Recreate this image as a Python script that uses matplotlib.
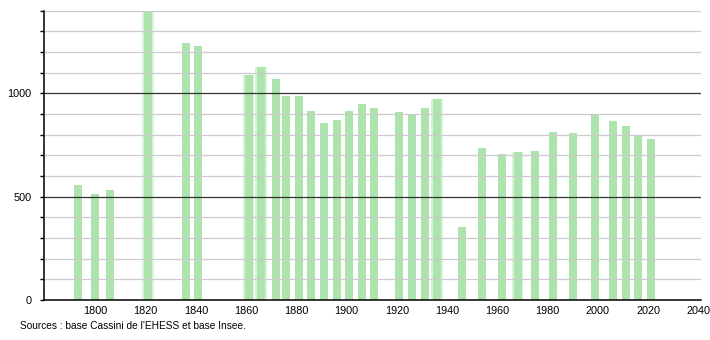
import numpy as np
import matplotlib
matplotlib.use("Agg")
import matplotlib.pyplot as plt

# census years and population
years = [1793, 1800, 1806, 1821, 1836, 1841, 1861, 1866, 1872, 1876, 1881,
         1886, 1891, 1896, 1901, 1906, 1911, 1921, 1926, 1931, 1936, 1946,
         1954, 1962, 1968, 1975, 1982, 1990, 1999, 2006, 2011, 2016, 2021]
population = [557, 513, 532, 1420, 1242, 1230, 1088, 1126, 1069, 987, 987,
              914, 856, 871, 914, 950, 930, 908, 898, 930, 972, 352,
              737, 706, 714, 721, 813, 808, 898, 866, 842, 797, 777]
# bars that look smeared in the original rendering
soft_years = [1821, 1861, 1866, 1936, 1968]

x_ticks = [1800, 1820, 1840, 1860, 1880, 1900, 1920, 1940, 1960, 1980, 2000, 2020, 2040]

plt.rcParams['font.family'] = ['Liberation Sans', 'DejaVu Sans']

fig = plt.figure(figsize=(7.1, 3.4), dpi=100)
ax = fig.add_axes([0.062, 0.1176, 0.925, 0.8514])

bar_color = '#ade3ad'
ax.bar(years, population, width=3.2, color=bar_color, zorder=2)
soft_pop = [p for y, p in zip(years, population) if y in soft_years]
ax.bar(soft_years, soft_pop, width=4.6, color=bar_color, alpha=0.45, zorder=1.9)

# grid lines every 100, darker at 500 and 1000
for v in range(100, 1401, 100):
    if v % 500 == 0:
        ax.axhline(v, color='#333333', lw=0.9, zorder=3)
    else:
        ax.axhline(v, color='#cccccc', lw=0.9, zorder=3)

ax.set_xlim(1779.6, 2040.9)
ax.set_ylim(0, 1400)

ax.set_yticks(np.arange(0, 1401, 100))
ax.set_yticklabels([str(v) if v % 500 == 0 else '' for v in range(0, 1401, 100)])
ax.set_xticks(x_ticks)
ax.set_xticklabels([str(t) for t in x_ticks])
ax.tick_params(axis='y', length=3, width=1, labelsize=7.8, pad=6)
ax.tick_params(axis='x', length=0, labelsize=7.8, pad=4)

for s in ['top', 'right']:
    ax.spines[s].set_visible(False)
ax.spines['left'].set_linewidth(1.1)
ax.spines['bottom'].set_linewidth(1.1)
ax.spines['left'].set_zorder(4)
ax.spines['bottom'].set_zorder(4)

fig.text(20 / 710, 1 - 326 / 340, "Sources : base Cassini de l'EHESS et base Insee.",
         fontsize=7.3, va='center', ha='left')

fig.savefig('out.png', dpi=100)
